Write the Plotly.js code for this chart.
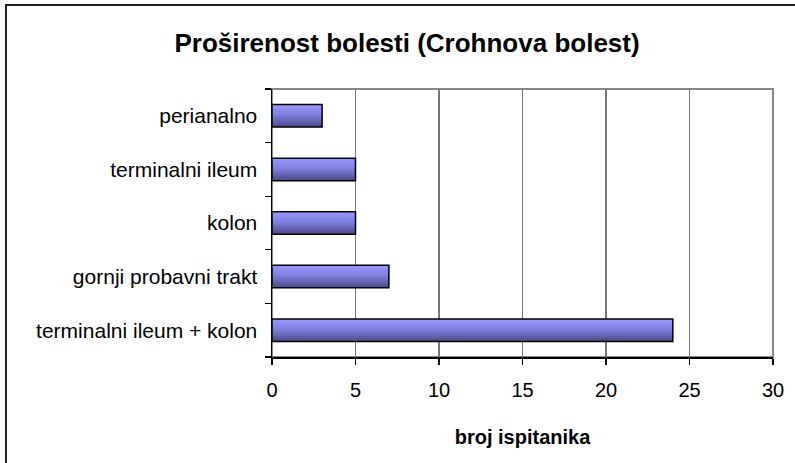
<!DOCTYPE html>
<html>
<head>
<meta charset="utf-8">
<script src="https://cdn.plot.ly/plotly-3.0.1.min.js"></script>
<style>
  html, body { margin: 0; padding: 0; background: #fff; overflow: hidden; }
  #wrap { position: relative; width: 795px; height: 463px; overflow: hidden; }
  #chart { width: 795px; height: 463px; }
  #frame { position: absolute; left: 5px; top: 4px; width: 800px; height: 470px; border: 2px solid #222; pointer-events: none; }
</style>
</head>
<body>
<div id="wrap">
  <div id="chart"></div>
  <div id="frame"></div>
</div>
<script>
const categories = ["terminalni ileum + kolon", "gornji probavni trakt", "kolon", "terminalni ileum", "perianalno"];
const values = [24, 7, 5, 5, 3];
const xTicks = [0, 5, 10, 15, 20, 25, 30];
const chartTitle = "Proširenost bolesti (Crohnova bolest)";
const xTitle = "broj ispitanika";

const font = "Liberation Sans, Arial, sans-serif";

const trace = {
  type: "bar",
  orientation: "h",
  y: categories,
  x: values,
  marker: { color: "#7a7ad6", line: { color: "#000", width: 1.5 } },
  hoverinfo: "skip"
};

const layout = {
  width: 795, height: 463,
  margin: { l: 272, r: 22, t: 89, b: 106 },
  paper_bgcolor: "#fff", plot_bgcolor: "#fff",
  showlegend: false,
  bargap: 0.58,
  title: { text: "<b>" + chartTitle + "</b>", font: { family: font, size: 26, color: "#000" },
           x: 0.512, xref: "container", xanchor: "center", y: 0.907, yref: "container", yanchor: "middle" },
  xaxis: {
    range: [0, 30], tickvals: xTicks, ticktext: xTicks.map(String),
    showgrid: true, gridcolor: "#777", gridwidth: 1.2,
    zeroline: false, showline: true, linecolor: "#000", linewidth: 1.5,
    ticks: "outside", ticklen: 6, tickcolor: "#000", tickwidth: 1.2,
    tickfont: { family: font, size: 20, color: "#000" },
    ticklabelstandoff: 8,
    title: { text: "<b>" + xTitle + "</b>", font: { family: font, size: 20, color: "#000" }, standoff: 30 },
    fixedrange: true
  },
  yaxis: {
    type: "category", tickson: "boundaries",
    showgrid: false, zeroline: false, showline: true, linecolor: "#000", linewidth: 1.5,
    ticks: "outside", ticklen: 6, tickcolor: "#000", tickwidth: 1.2,
    tickfont: { family: font, size: 21, color: "#000" },
    ticklabelstandoff: 9,
    fixedrange: true
  },
  shapes: [{
    type: "rect", xref: "paper", yref: "paper", x0: 0, x1: 1, y0: 0, y1: 1,
    line: { color: "#888", width: 2 }, layer: "below"
  }]
};

Plotly.newPlot("chart", [trace], layout, { displayModeBar: false, staticPlot: true }).then(function (gd) {
  // Excel-like vertical gradient on bars
  const svg = gd.querySelector("svg.main-svg");
  const ns = "http://www.w3.org/2000/svg";
  let defs = svg.querySelector("defs");
  if (!defs) { defs = document.createElementNS(ns, "defs"); svg.insertBefore(defs, svg.firstChild); }
  const grad = document.createElementNS(ns, "linearGradient");
  grad.setAttribute("id", "barGrad");
  grad.setAttribute("x1", "0"); grad.setAttribute("y1", "0");
  grad.setAttribute("x2", "0"); grad.setAttribute("y2", "1");
  [["0%", "#9a9aff"], ["45%", "#8080e0"], ["100%", "#4a4a88"]].forEach(function (s) {
    const st = document.createElementNS(ns, "stop");
    st.setAttribute("offset", s[0]); st.setAttribute("stop-color", s[1]);
    grad.appendChild(st);
  });
  defs.appendChild(grad);
  gd.querySelectorAll(".bars .point path").forEach(function (p) {
    p.style.fill = "url(#barGrad)";
  });
});
</script>
</body>
</html>
